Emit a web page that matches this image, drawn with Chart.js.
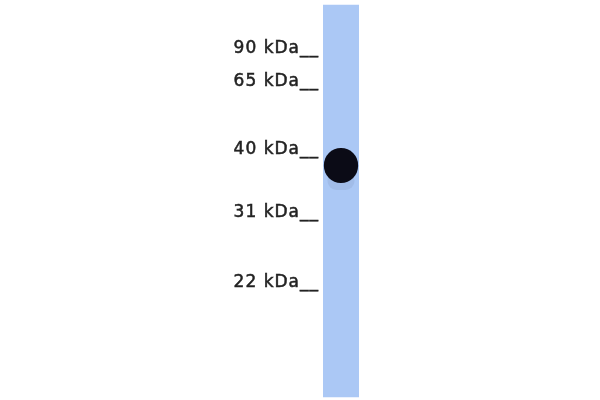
<!DOCTYPE html>
<html>
<head>
<meta charset="utf-8">
<script src="https://cdn.jsdelivr.net/npm/chart.js@4"></script>
<style>
  html, body { margin: 0; padding: 0; background: #ffffff; }
  #c { display: block; filter: blur(0.6px); }
</style>
</head>
<body>
<canvas id="c" width="600" height="400"></canvas>
<script>
// Marker ladder (molecular weight labels) and their migration distance
const markerLabels = ['90 kDa', '65 kDa', '40 kDa', '31 kDa', '22 kDa'];
const markerMigration = [49, 82, 150, 213, 283];
// Lane and detected band, in migration units
const lanes = ['Sample'];
const laneExtent = [[5, 397]];
const bandExtent = [[148, 183]];
const haloExtent = [[172, 190]];

const spacingPlugin = {
  id: 'spacing',
  beforeDraw: (chart) => { chart.ctx.letterSpacing = '1px'; },
  beforeLayout: (chart) => { chart.ctx.letterSpacing = '1px'; }
};

const ctx = document.getElementById('c').getContext('2d');
new Chart(ctx, {
  type: 'bar',
  plugins: [spacingPlugin],
  data: {
    labels: lanes,
    datasets: [
      {
        label: 'Band',
        data: bandExtent,
        backgroundColor: '#0b0b16',
        borderWidth: 0,
        borderRadius: 17,
        borderSkipped: false,
        barPercentage: 0.95,
        categoryPercentage: 1,
        grouped: false
      },
      {
        label: 'Halo',
        data: haloExtent,
        backgroundColor: 'rgba(110,130,170,0.16)',
        borderWidth: 0,
        borderRadius: 9,
        borderSkipped: false,
        barPercentage: 0.75,
        categoryPercentage: 1,
        grouped: false
      },
      {
        label: 'Lane',
        data: laneExtent,
        backgroundColor: '#abc8f5',
        borderWidth: 0,
        barPercentage: 1,
        categoryPercentage: 1,
        grouped: false
      }
    ]
  },
  options: {
    responsive: false,
    animation: false,
    devicePixelRatio: 1,
    layout: { padding: { left: 0, right: 241, top: 0, bottom: 0 } },
    plugins: { legend: { display: false }, tooltip: { enabled: false } },
    scales: {
      x: { display: false },
      y: {
        reverse: true,
        min: 0,
        max: 400,
        grid: { display: false, drawTicks: false },
        border: { display: false },
        afterBuildTicks: (scale) => {
          scale.ticks = markerMigration.map(v => ({ value: v }));
        },
        afterFit: (scale) => {
          scale.width = 323;
          scale.paddingTop = 0;
          scale.paddingBottom = 0;
        },
        ticks: {
          padding: 4,
          color: '#222222',
          textStrokeColor: '#222222',
          textStrokeWidth: 0.5,
          font: { family: 'DejaVu Sans', size: 17 },
          callback: (value) => {
            const i = markerMigration.indexOf(value);
            return i >= 0 ? markerLabels[i] + '__' : '';
          }
        }
      }
    }
  }
});
</script>
</body>
</html>
